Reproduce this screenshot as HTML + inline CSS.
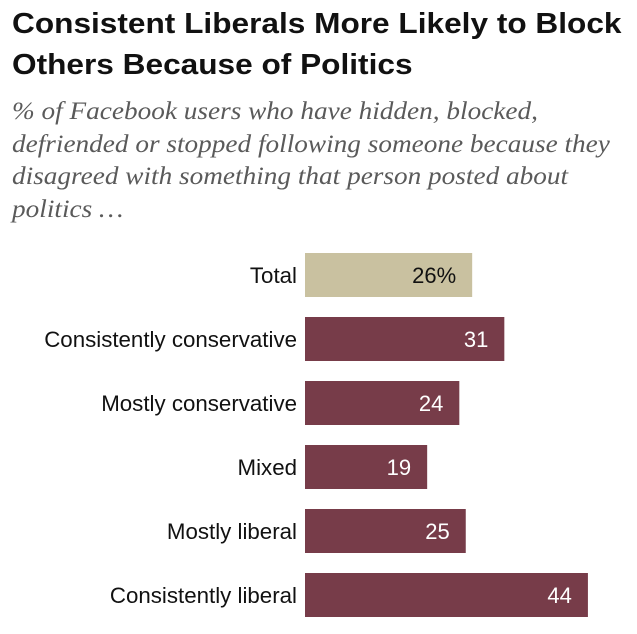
<!DOCTYPE html>
<html><head><meta charset="utf-8"><style>
body{margin:0;background:#fff;width:637px;height:634px;overflow:hidden;position:relative;font-family:"Liberation Sans",Arial,sans-serif}
#title{position:absolute;left:12px;top:4px;font-weight:bold;font-size:29px;line-height:41px;color:#111;white-space:nowrap;transform:scaleX(1.09);transform-origin:0 0}
#sub{position:absolute;left:12px;top:96px;font-family:"Liberation Serif",serif;font-style:italic;font-size:25px;line-height:32.5px;color:#5a5a5a;white-space:nowrap;transform:scaleX(1.09);transform-origin:0 0}
svg{position:absolute;left:0;top:0}
</style></head><body>
<div id="title">Consistent Liberals More Likely to Block<br>Others Because of Politics</div>
<div id="sub">% of Facebook users who have hidden, blocked,<br>defriended or stopped following someone because they<br>disagreed with something that person posted about<br>politics …</div>
<svg id="chart" width="637" height="634"></svg>
<script>
const categories=["Total","Consistently conservative","Mostly conservative","Mixed","Mostly liberal","Consistently liberal"];
const values=[26,31,24,19,25,44];
const valueLabels=["26%","31","24","19","25","44"];
const NS="http://www.w3.org/2000/svg";
const svg=document.getElementById('chart');
const x0=305,scale=6.43,yTop=253,step=64,bh=44;
function xs(v){return x0+v*scale;}
function ys(i){return yTop+i*step;}
categories.forEach((c,i)=>{
  const r=document.createElementNS(NS,'rect');
  r.setAttribute('x',x0);r.setAttribute('y',ys(i));
  r.setAttribute('width',xs(values[i])-x0);r.setAttribute('height',bh);
  r.setAttribute('fill',i===0?'#c9c1a0':'#773c49');
  
  
  svg.appendChild(r);
  const t=document.createElementNS(NS,'text');
  t.setAttribute('x',297);t.setAttribute('y',ys(i)+bh/2+8);
  t.setAttribute('text-anchor','end');t.setAttribute('font-size','22.3');t.setAttribute('fill','#111');
  t.textContent=c;
  
  
  svg.appendChild(t);
  const v=document.createElementNS(NS,'text');
  v.setAttribute('x',xs(values[i])-16);v.setAttribute('y',ys(i)+bh/2+8);
  v.setAttribute('text-anchor','end');v.setAttribute('font-size','22');
  v.setAttribute('fill',i===0?'#111':'#fff');
  v.textContent=valueLabels[i];
  
  
  svg.appendChild(v);
});
</script>
</body></html>
